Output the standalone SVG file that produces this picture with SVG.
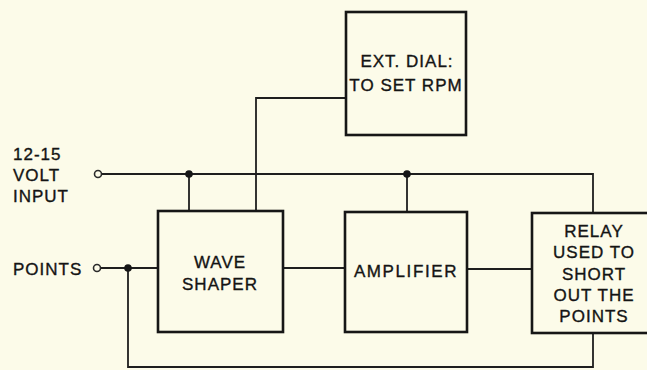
<svg xmlns="http://www.w3.org/2000/svg" width="647" height="370" viewBox="0 0 647 370">
<style>
.bg{fill:#fcfbe9}
.box{fill:none;stroke:#161616;stroke-width:2.6}
.wire{fill:none;stroke:#1e1e1e;stroke-width:1.8}
.dot{fill:#161616}
.open{fill:#fcfbe9;stroke:#2a2a2a;stroke-width:1.6}
text{font-family:"Liberation Sans",Arial,sans-serif;font-size:17px;fill:#141414;stroke:#141414;stroke-width:0.35;letter-spacing:1px}
.c{text-anchor:middle}
</style>
<rect class="bg" x="0" y="0" width="647" height="370"/>
<g id="connectors">
<path class="wire" d="M101.5 174 H593 V213"/>
<path class="wire" d="M189 174 V211"/>
<path class="wire" d="M407 174 V212"/>
<path class="wire" d="M256 211 V98 H346"/>
<path class="wire" d="M100.5 268 H158"/>
<path class="wire" d="M128 268 V367 H593 V333"/>
<path class="wire" d="M283 268 H345"/>
<path class="wire" d="M467 269 H532"/>
<circle class="open" cx="98" cy="174" r="3.5"/>
<circle class="open" cx="97" cy="268" r="3.5"/>
<circle class="dot" cx="189" cy="174" r="3.8"/>
<circle class="dot" cx="407" cy="174" r="3.8"/>
<circle class="dot" cx="128" cy="268" r="3.8"/>
</g>
<g id="volt-input">
<text x="13" y="160">12-15</text>
<text x="13" y="181">VOLT</text>
<text x="13" y="202">INPUT</text>
</g>
<g id="points-input">
<text x="13" y="275">POINTS</text>
</g>
<g id="ext-dial">
<rect class="box" x="346" y="12" width="120" height="123"/>
<text class="c" x="407" y="67">EXT. DIAL:</text>
<text class="c" x="406" y="91">TO SET RPM</text>
</g>
<g id="wave-shaper">
<rect class="box" x="158" y="211" width="125" height="121"/>
<text class="c" x="220" y="268">WAVE</text>
<text class="c" x="220" y="290">SHAPER</text>
</g>
<g id="amplifier">
<rect class="box" x="345" y="212" width="122" height="120"/>
<text class="c" x="406" y="277" style="letter-spacing:1.6px">AMPLIFIER</text>
</g>
<g id="relay">
<rect class="box" x="532" y="213" width="125" height="120"/>
<text class="c" x="594" y="237">RELAY</text>
<text class="c" x="594" y="258">USED TO</text>
<text class="c" x="594" y="280">SHORT</text>
<text class="c" x="594" y="301">OUT THE</text>
<text class="c" x="594" y="322">POINTS</text>
</g>
</svg>
